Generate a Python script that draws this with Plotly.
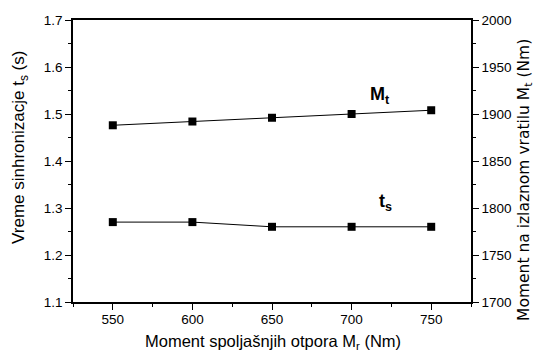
import plotly.graph_objects as go

moment_r = [550, 600, 650, 700, 750]
t_s = [1.27, 1.27, 1.26, 1.26, 1.26]
m_t = [1888, 1892, 1896, 1900, 1904]

FONT = "Liberation Sans, Arial, sans-serif"
NARROW = "Liberation Sans Narrow, Arial Narrow, Liberation Sans, sans-serif"
WIDE = "DejaVu Sans, Liberation Sans, sans-serif"

fig = go.Figure()
fig.add_trace(go.Scatter(x=moment_r, y=t_s, mode="lines+markers",
                         line=dict(color="black", width=1),
                         marker=dict(symbol="square", size=8, color="black"),
                         yaxis="y", showlegend=False))
fig.add_trace(go.Scatter(x=moment_r, y=m_t, mode="lines+markers",
                         line=dict(color="black", width=1),
                         marker=dict(symbol="square", size=8, color="black"),
                         yaxis="y2", showlegend=False))

axis_common = dict(showline=True, linecolor="black", linewidth=1.5,
                   ticks="outside", ticklen=6, tickwidth=1, tickcolor="black",
                   showgrid=False, zeroline=False, automargin=False,
                   tickfont=dict(family=FONT, size=13.5, color="black"))

fig.update_layout(
    width=536, height=353,
    margin=dict(l=73, r=65, t=20, b=51),
    paper_bgcolor="white", plot_bgcolor="white",
    font=dict(family=FONT, color="black"),
    xaxis=dict(range=[525, 775], tickvals=[550, 600, 650, 700, 750],
               mirror=True, ticklabelstandoff=-2,
               minor=dict(dtick=25, ticklen=3, ticks="outside", tickcolor="black"),
               **axis_common),
    yaxis=dict(range=[1.1, 1.7], dtick=0.1, tickformat=".1f",
               minor=dict(dtick=0.05, ticklen=3, ticks="outside", tickcolor="black"),
               **axis_common),
    yaxis2=dict(range=[1700, 2000], dtick=50, overlaying="y", side="right",
                minor=dict(dtick=25, ticklen=3, ticks="outside", tickcolor="black"),
                **axis_common),
    annotations=[
        dict(x=0.5025, y=-0.1418, xref="paper", yref="paper",
             text="Moment spoljašnjih otpora M<sub>r</sub> (Nm)",
             showarrow=False, xanchor="center", yanchor="middle",
             font=dict(family=NARROW, size=16.5, color="black")),
        dict(x=-0.1332, y=0.55, xref="paper", yref="paper",
             text="Vreme sinhronizacje t<sub>s</sub> (s)", textangle=-90,
             showarrow=False, xanchor="center", yanchor="middle",
             font=dict(family=NARROW, size=17, color="black")),
        dict(x=1.135, y=0.432, xref="paper", yref="paper",
             text="Moment na izlaznom vratilu M<sub>t</sub> (Nm)", textangle=-90,
             showarrow=False, xanchor="center", yanchor="middle",
             font=dict(family=WIDE, size=15.5, color="black")),
        dict(x=718, y=1.54, xref="x", yref="y", text="<b>M<sub>t</sub></b>",
             showarrow=False, font=dict(family=FONT, size=18, color="black")),
        dict(x=721, y=1.312, xref="x", yref="y", text="<b>t<sub>s</sub></b>",
             showarrow=False, font=dict(family=FONT, size=18, color="black")),
    ],
)

fig.write_html("out.html")
